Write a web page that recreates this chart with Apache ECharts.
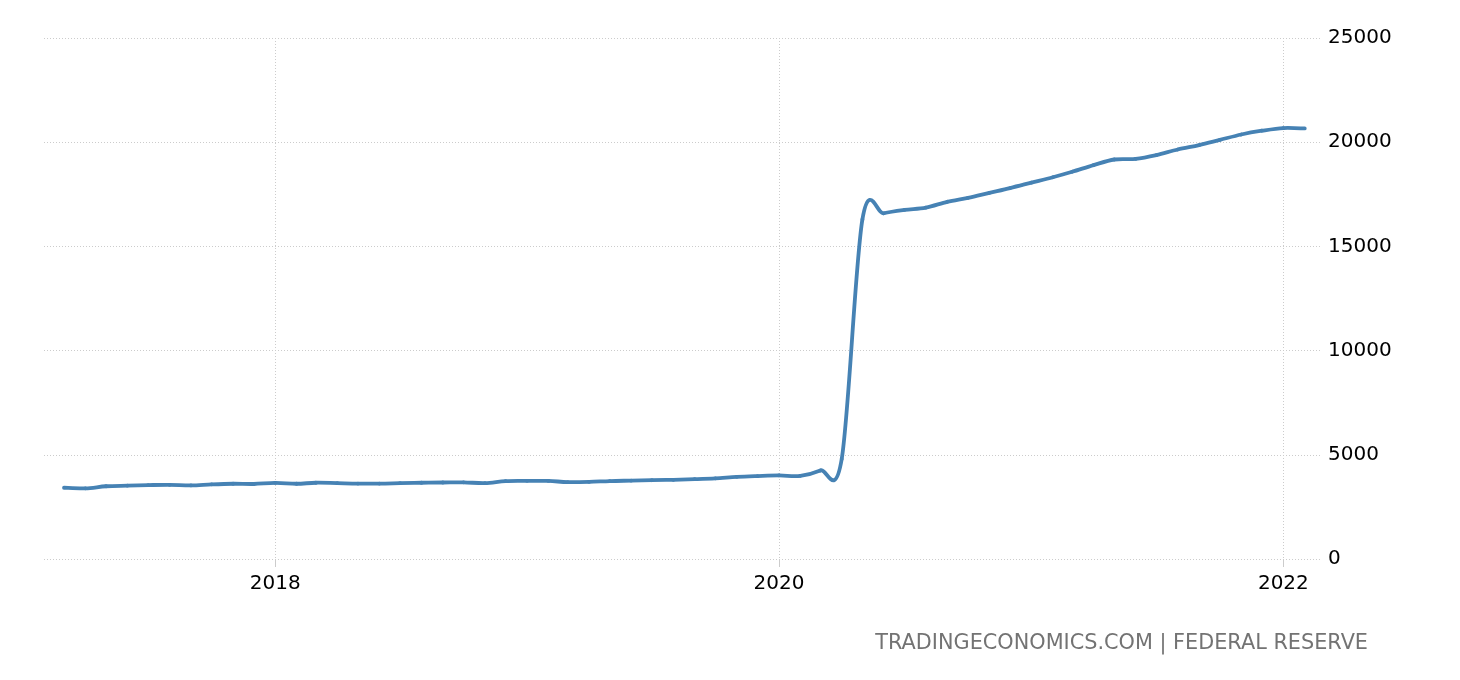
<!DOCTYPE html>
<html>
<head>
<meta charset="utf-8">
<script src="https://cdn.jsdelivr.net/npm/echarts@6/dist/echarts.min.js"></script>
<style>
html,body{margin:0;padding:0;background:#ffffff;}
#chart{width:1460px;height:680px;}
</style>
</head>
<body>
<div id="chart"></div>
<script>
// ---- data (US M1 money supply, USD billions, monthly) ----
const months = [
  '2017-03','2017-04','2017-05','2017-06','2017-07','2017-08','2017-09','2017-10','2017-11','2017-12',
  '2018-01','2018-02','2018-03','2018-04','2018-05','2018-06','2018-07','2018-08','2018-09','2018-10','2018-11','2018-12',
  '2019-01','2019-02','2019-03','2019-04','2019-05','2019-06','2019-07','2019-08','2019-09','2019-10','2019-11','2019-12',
  '2020-01','2020-02','2020-03','2020-04','2020-05','2020-06','2020-07','2020-08','2020-09','2020-10','2020-11','2020-12',
  '2021-01','2021-02','2021-03','2021-04','2021-05','2021-06','2021-07','2021-08','2021-09','2021-10','2021-11','2021-12',
  '2022-01','2022-02'
];
const values = [
  3420, 3390, 3490, 3520, 3545, 3560, 3530, 3580, 3610, 3600,
  3650, 3610, 3660, 3640, 3620, 3620, 3640, 3660, 3670, 3680, 3640, 3740,
  3750, 3745, 3690, 3700, 3740, 3760, 3780, 3800, 3830, 3870, 3940, 3980,
  4010, 3990, 4250, 4800, 16300, 16590, 16750, 16860, 17140, 17330, 17570, 17800,
  18060, 18320, 18580, 18900, 19170, 19200, 19380, 19650, 19860, 20110, 20370, 20550,
  20680, 20660
];
const yTicks = [0, 5000, 10000, 15000, 20000, 25000];
const xTickDates = ['2018-01-01', '2020-01-01', '2022-01-01'];
const xTickLabels = ['2018', '2020', '2022'];
const sourceText = 'TRADINGECONOMICS.COM | FEDERAL RESERVE';

// ---- helpers ----
function toTime(s) {
  const p = s.split('-').map(Number);
  return Date.UTC(p[0], p[1] - 1, p[2] || 1);
}
const seriesData = months.map((m, i) => [toTime(m), values[i]]);
const xTickValues = xTickDates.map(toTime);
const xMin = Date.UTC(2017, 0, 31);
const xMax = Date.UTC(2022, 1, 26);

const LINE_COLOR = '#4682b4';
const GRID_COLOR = '#cccccc';
const FONT = '"DejaVu Sans"';

// smooth spline (Catmull-Rom) drawn segment by segment through the axis scales
function renderSegment(params, api) {
  const i = params.dataIndex;
  if (i === 0) return null;
  const n = seriesData.length;
  const pt = k => api.coord(seriesData[Math.max(0, Math.min(n - 1, k))]);
  const p0 = pt(i - 2), p1 = pt(i - 1), p2 = pt(i), p3 = pt(i + 1);
  return {
    type: 'bezierCurve',
    shape: {
      x1: p1[0], y1: p1[1],
      x2: p2[0], y2: p2[1],
      cpx1: p1[0] + (p2[0] - p0[0]) / 6,
      cpy1: p1[1] + (p2[1] - p0[1]) / 6,
      cpx2: p2[0] - (p3[0] - p1[0]) / 6,
      cpy2: p2[1] - (p3[1] - p1[1]) / 6
    },
    style: { stroke: LINE_COLOR, lineWidth: 3.8, fill: null, lineCap: 'round', lineJoin: 'round' },
    silent: true
  };
}

const chart = echarts.init(document.getElementById('chart'), null, { renderer: 'canvas' });
chart.setOption({
  animation: false,
  backgroundColor: '#ffffff',
  grid: { left: 44, right: 138, top: 38, bottom: 121, containLabel: false },
  xAxis: {
    type: 'value',
    min: xMin,
    max: xMax,
    axisLine: { show: false },
    axisTick: { show: true, customValues: xTickValues, length: 8, lineStyle: { color: GRID_COLOR, width: 1 } },
    axisLabel: {
      customValues: xTickValues,
      formatter: v => {
        const idx = xTickValues.indexOf(v);
        return idx >= 0 ? xTickLabels[idx] : '';
      },
      fontSize: 20, color: '#000000', fontFamily: FONT, margin: 15, hideOverlap: false
    },
    splitLine: { show: true, lineStyle: { color: GRID_COLOR, width: 1, type: [1, 2] } }
  },
  yAxis: {
    type: 'value',
    position: 'right',
    min: yTicks[0],
    max: yTicks[yTicks.length - 1],
    interval: yTicks[1] - yTicks[0],
    axisLine: { show: false },
    axisTick: { show: false },
    axisLabel: { fontSize: 20, color: '#000000', fontFamily: FONT, margin: 6, formatter: v => String(v) },
    splitLine: { show: true, lineStyle: { color: GRID_COLOR, width: 1, type: [1, 2] } }
  },
  graphic: [{
    type: 'text',
    right: 92,
    top: 633,
    style: { text: sourceText, fontSize: 20.8, fill: '#737373', fontFamily: FONT }
  }],
  series: [{
    type: 'custom',
    coordinateSystem: 'cartesian2d',
    encode: { x: 0, y: 1 },
    data: seriesData,
    renderItem: renderSegment,
    clip: false
  }]
});
</script>
</body>
</html>
